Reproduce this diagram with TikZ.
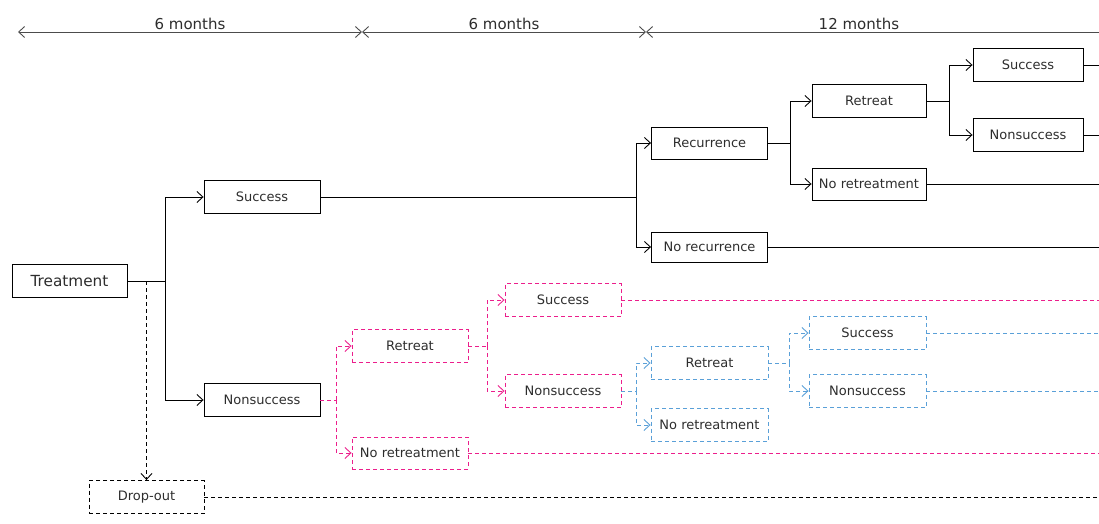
\documentclass[tikz,border=0pt]{standalone}
\usepackage{fontspec}
\setmainfont{DejaVu Sans}
\usetikzlibrary{arrows.meta}
\definecolor{pinkline}{RGB}{236,30,140}
\definecolor{blueline}{RGB}{90,160,216}
\definecolor{textgray}{RGB}{45,45,45}

\begin{document}
\begin{tikzpicture}[x=1pt, y=-1pt, line width=0.9pt, >={Straight Barb[length=6pt,width=11pt]},
  font=\fontsize{13}{15}\selectfont, text=textgray,
  box/.style={draw, minimum width=116pt, minimum height=33pt, inner sep=2pt},
  pinkbox/.style={box, draw=pinkline, dash pattern=on 4pt off 3pt},
  bluebox/.style={box, draw=blueline, dash pattern=on 4pt off 3pt},
  pinkdash/.style={draw=pinkline, dash pattern=on 4pt off 3pt},
  bluedash/.style={draw=blueline, dash pattern=on 4pt off 3pt},
  blackdash/.style={dash pattern=on 4pt off 3pt},
  span/.style={<->, draw=black!70}]
  \useasboundingbox (0,0) rectangle (1099,524);
  \coordinate (edge) at (1099,0);

  % time spans
  \coordinate (t0) at (18,32);
  \coordinate (t1) at (362,32);
  \coordinate (t2) at (646,32);
  \coordinate (t3) at (1099,32);
  \draw[span] (t0) -- node[above=-1pt, font=\fontsize{15}{17}\selectfont]{6 months} (t1);
  \draw[span] (t1) -- node[above=-1pt, font=\fontsize{15}{17}\selectfont]{6 months} (t2);
  \draw[<-, draw=black!70] (t2) -- node[above=-1pt, pos=0.47, font=\fontsize{15}{17}\selectfont]{12 months} (t3);

  % first level
  \node[box, minimum width=115pt, font=\fontsize{15.3}{17}\selectfont] (treat) at (69.5,281) {Treatment};
  \node[box] (succ) at (262,197) {Success};
  \node[box] (nonsucc) at (262,400) {Nonsuccess};
  \node[box, blackdash, minimum width=115pt] (drop) at (146.5,497) {Drop-out};

  % after success
  \node[box, minimum height=32pt] (recur) at (709.5,143) {Recurrence};
  \node[box, minimum height=30pt] (norecur) at (709.5,247) {No recurrence};
  \node[box, minimum width=114pt] (retreat) at (869,101) {Retreat};
  \node[box, minimum width=114pt, minimum height=32pt] (noretreat) at (869,184) {No retreatment};
  \node[box, minimum width=110pt] (rsucc) at (1028,65) {Success};
  \node[box, minimum width=110pt] (rnonsucc) at (1028,135) {Nonsuccess};

  % after nonsuccess (pink)
  \node[pinkbox] (pretreat) at (410,346) {Retreat};
  \node[pinkbox, minimum height=32pt] (pnoretreat) at (410,453) {No retreatment};
  \node[pinkbox] (psucc) at (563,300) {Success};
  \node[pinkbox] (pnonsucc) at (563,391) {Nonsuccess};

  % after second nonsuccess (blue)
  \node[bluebox, minimum width=117pt] (bretreat) at (709.5,363) {Retreat};
  \node[bluebox, minimum width=117pt] (bnoretreat) at (709.5,425) {No retreatment};
  \node[bluebox, minimum width=117pt] (bsucc) at (867.5,333) {Success};
  \node[bluebox, minimum width=117pt] (bnonsucc) at (867.5,391) {Nonsuccess};

  % junctions
  \coordinate (j1) at (165,281);
  \coordinate (j2) at (636,197);
  \coordinate (j3) at (790,143);
  \coordinate (j4) at (949,101);
  \coordinate (jd) at (146.5,281);
  \coordinate (pj1) at (336,400);
  \coordinate (pj2) at (487,346);
  \coordinate (bj1) at (636,391);
  \coordinate (bj2) at (789,363);

  % solid tree
  \draw (treat) -- (j1);
  \draw[->] (j1) |- (succ);
  \draw[->] (j1) |- (nonsucc);
  \draw (succ) -- (j2);
  \draw[->] (j2) |- (recur);
  \draw[->] (j2) |- (norecur);
  \draw (recur) -- (j3);
  \draw[->] (j3) |- (retreat);
  \draw[->] (j3) |- (noretreat);
  \draw (retreat) -- (j4);
  \draw[->] (j4) |- (rsucc);
  \draw[->] (j4) |- (rnonsucc);
  \draw (rsucc) -- (rsucc -| edge);
  \draw (rnonsucc) -- (rnonsucc -| edge);
  \draw (noretreat) -- (noretreat -| edge);
  \draw (norecur) -- (norecur -| edge);

  % drop-out
  \draw[->, blackdash] (jd) -- (drop);
  \draw[blackdash] (drop) -- (drop -| edge);

  % pink tree
  \draw[pinkdash] (nonsucc) -- (pj1);
  \draw[->, pinkdash] (pj1) |- (pretreat);
  \draw[->, pinkdash] (pj1) |- (pnoretreat);
  \draw[pinkdash] (pretreat) -- (pj2);
  \draw[->, pinkdash] (pj2) |- (psucc);
  \draw[->, pinkdash] (pj2) |- (pnonsucc);
  \draw[pinkdash] (psucc) -- (psucc -| edge);
  \draw[pinkdash] (pnoretreat) -- (pnoretreat -| edge);

  % blue tree
  \draw[bluedash] (pnonsucc) -- (bj1);
  \draw[->, bluedash] (bj1) |- (bretreat);
  \draw[->, bluedash] (bj1) |- (bnoretreat);
  \draw[bluedash] (bretreat) -- (bj2);
  \draw[->, bluedash] (bj2) |- (bsucc);
  \draw[->, bluedash] (bj2) |- (bnonsucc);
  \draw[bluedash] (bsucc) -- (bsucc -| edge);
  \draw[bluedash] (bnonsucc) -- (bnonsucc -| edge);
\end{tikzpicture}
\end{document}
